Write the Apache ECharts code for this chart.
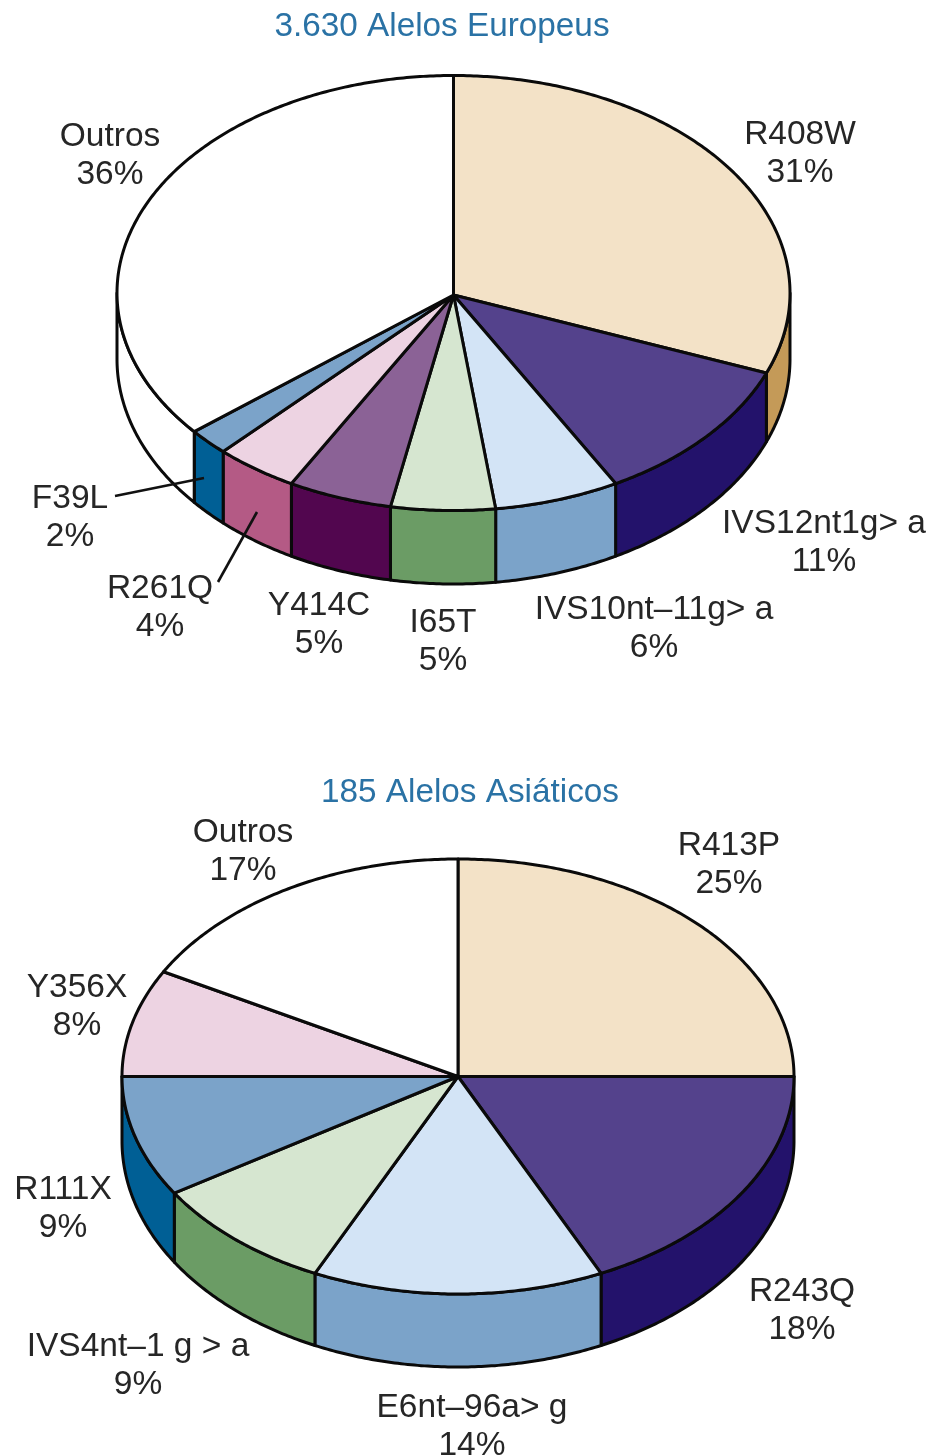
<!DOCTYPE html>
<html>
<head>
<meta charset="utf-8">
<style>html,body{margin:0;padding:0;background:#fff}#chart{width:929px;height:1456px}</style>
<script src="https://cdn.jsdelivr.net/npm/echarts@6/dist/echarts.min.js"></script>
</head>
<body>
<div id="chart"></div>
<script>
// Allele frequencies, percent
const europeanAlleles = ['R408W', 'IVS12nt1g> a', 'IVS10nt–11g> a', 'I65T', 'Y414C', 'R261Q', 'F39L', 'Outros'];
const europeanShares = [31, 11, 6, 5, 5, 4, 2, 36];
const asianAlleles = ['R413P', 'R243Q', 'E6nt–96a> g', 'IVS4nt–1 g > a', 'R111X', 'Y356X', 'Outros'];
const asianShares = [25, 18, 14, 9, 9, 8, 17];

// Slice colours: [top face, side wall]
const TAN = ['#f3e2c7', '#c49a58'], PURPLE = ['#54428c', '#23126b'], SKY = ['#d3e4f6', '#7ba3c9'],
      GREEN = ['#d6e6d0', '#6b9c65'], MAUVE = ['#8b6296', '#52064f'], PINK = ['#edd3e2', '#b45a85'],
      BLUE = ['#7ba3c9', '#005f95'], WHITE = ['#ffffff', '#ffffff'];
const europeanColors = [TAN, PURPLE, SKY, GREEN, MAUVE, PINK, BLUE, WHITE];
const asianColors = [TAN, PURPLE, SKY, GREEN, BLUE, PINK, WHITE];

// Label anchors (centre of the name line) and optional leader lines
const europeanLabelAt = [[800,135],[824,524],[654,610],[443,623],[319,606],[160,589],[70,499],[110,137]];
const europeanLeaders = { 5: [[218,582],[257,512]], 6: [[115,496],[204,478]] };
const asianLabelAt = [[729,846],[802,1292],[472,1408],[138,1347],[63,1190],[77,988],[243,833]];

const FONT = '"Liberation Sans", Arial, Helvetica, sans-serif';
const INK = '#262626', EDGE = '#0a0a0a', EDGE_W = 3, LINE_GAP = 38;

// geo: hub position, top rim ellipse (cx, cy, rx, ry) and lower rim ellipse (cyLow, ryLow)
function pie3d(alleles, shares, colors, labelAt, leaders, geo) {
  const topPoint = t => [geo.cx + geo.rx * Math.sin(t), geo.cy - geo.ry * Math.cos(t)];
  const lowPoint = t => [geo.cx + geo.rx * Math.sin(t), geo.cyLow - geo.ryLow * Math.cos(t)];
  const arc = (fn, a, b) => {
    const n = Math.max(2, Math.ceil((b - a) / 0.01));
    const pts = [];
    for (let i = 0; i <= n; i++) pts.push(fn(a + (b - a) * i / n));
    return pts;
  };
  const total = shares.reduce((s, v) => s + v, 0);
  let running = 0;
  const data = shares.map((v, i) => {
    const item = { name: alleles[i], value: [running, v] };
    running += v;
    return item;
  });
  return {
    type: 'custom',
    coordinateSystem: 'none',
    silent: true,
    animation: false,
    data,
    renderItem(params, api) {
      const i = params.dataIndex;
      const a = api.value(0) / total * 2 * Math.PI;
      const b = (api.value(0) + api.value(1)) / total * 2 * Math.PI;
      const children = [];
      // Only the front half of the rim shows a wall
      const wa = Math.max(a, Math.PI / 2), wb = Math.min(b, 3 * Math.PI / 2);
      if (wb > wa) {
        children.push({
          type: 'polygon', z2: 1,
          shape: { points: arc(topPoint, wa, wb).concat(arc(lowPoint, wa, wb).reverse()) },
          style: { fill: colors[i][1], stroke: EDGE, lineWidth: EDGE_W, lineJoin: 'round' }
        });
      }
      children.push({
        type: 'polygon', z2: 2,
        shape: { points: [[geo.hubX, geo.hubY]].concat(arc(topPoint, a, b)) },
        style: { fill: colors[i][0], stroke: EDGE, lineWidth: EDGE_W, lineJoin: 'round' }
      });
      if (leaders[i]) {
        children.push({
          type: 'line', z2: 3,
          shape: { x1: leaders[i][0][0], y1: leaders[i][0][1], x2: leaders[i][1][0], y2: leaders[i][1][1] },
          style: { stroke: '#111', lineWidth: 2.6 }
        });
      }
      [alleles[i], api.value(1) + '%'].forEach((line, k) => {
        children.push({
          type: 'text', z2: 4,
          style: {
            text: line, x: labelAt[i][0], y: labelAt[i][1] + k * LINE_GAP,
            align: 'center', verticalAlign: 'middle',
            font: '33.5px ' + FONT, fill: INK
          }
        });
      });
      return { type: 'group', children };
    }
  };
}

const chart = echarts.init(document.getElementById('chart'), null, { renderer: 'canvas' });
chart.setOption({
  backgroundColor: '#ffffff',
  animation: false,
  title: [
    { text: '3.630 Alelos Europeus', left: 437, top: 5, textAlign: 'center',
      textStyle: { fontFamily: FONT, fontSize: 33.3, fontWeight: 'normal', color: '#2a72a5' } },
    { text: '185 Alelos Asiáticos', left: 465, top: 771, textAlign: 'center',
      textStyle: { fontFamily: FONT, fontSize: 33.3, fontWeight: 'normal', color: '#2a72a5' } }
  ],
  series: [
    pie3d(europeanAlleles, europeanShares, europeanColors, europeanLabelAt, europeanLeaders,
      { hubX: 453.5, hubY: 295, cx: 453.5, cy: 293, rx: 336.5, ry: 217.5, cyLow: 359, ryLow: 225 }),
    pie3d(asianAlleles, asianShares, asianColors, asianLabelAt, {},
      { hubX: 458, hubY: 1076.5, cx: 458, cy: 1076.5, rx: 336, ry: 217.5, cyLow: 1141, ryLow: 226 })
  ]
});
</script>
</body>
</html>
